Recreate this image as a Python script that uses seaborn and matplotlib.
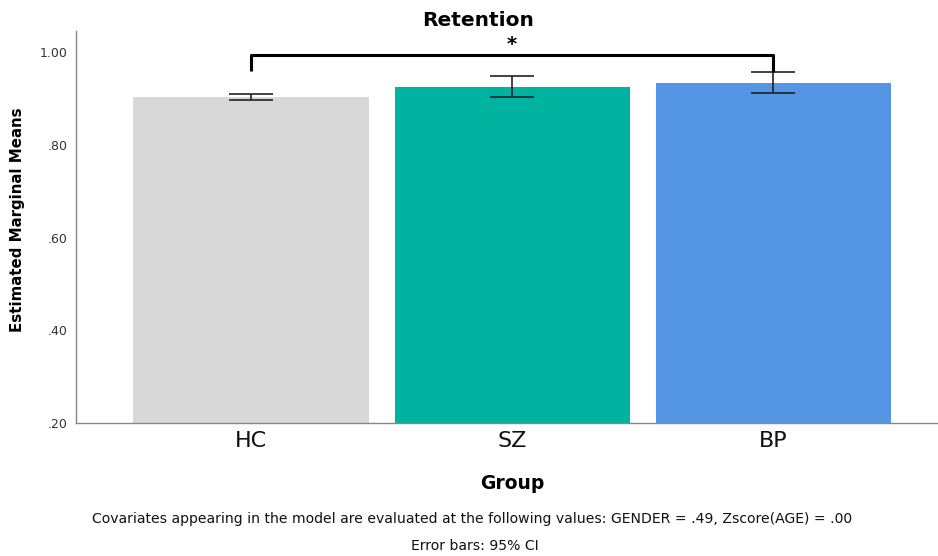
import matplotlib
matplotlib.use("Agg")
import matplotlib.pyplot as plt
import seaborn as sns
import pandas as pd
from matplotlib.path import Path
from matplotlib.patches import PathPatch

# Estimated marginal means with 95% CI
groups = ["HC", "SZ", "BP"]
means = [0.903, 0.926, 0.934]
ci_low = [0.897, 0.904, 0.912]
ci_high = [0.910, 0.949, 0.958]
colors = ["#d8d8d8", "#00b3a0", "#5596e4"]
yticks = [0.20, 0.40, 0.60, 0.80, 1.00]
ytick_labels = [".20", ".40", ".60", ".80", "1.00"]

sns.set_theme(style="white")
plt.rcParams["font.family"] = ["DejaVu Sans"]
plt.rcParams["text.color"] = "black"

df = pd.DataFrame({"Group": groups, "Mean": means})

fig = plt.figure(figsize=(9.38, 5.56), dpi=100)
ax = fig.add_axes([0.081, 0.2392, 0.919, 0.705])

sns.barplot(data=df, x="Group", y="Mean", hue="Group", palette=colors,
            order=groups, hue_order=groups, legend=False, width=0.9,
            errorbar=None, ax=ax, saturation=1, edgecolor="none")

xpos = list(range(len(groups)))
yerr = [[m - lo for m, lo in zip(means, ci_low)],
        [hi - m for m, hi in zip(means, ci_high)]]
ax.errorbar(xpos, means, yerr=yerr, fmt="none", ecolor="#222222",
            elinewidth=1.2, capsize=16, capthick=1.2, zorder=5)

ax.set_ylim(0.20, 1.046)
ax.set_xlim(-0.67, 2.63)
ax.set_yticks(yticks)
ax.set_yticklabels(ytick_labels, fontsize=9, color="#333333")
ax.tick_params(axis="x", labelsize=16, length=0, pad=6, labelcolor="#111111")
ax.tick_params(axis="y", length=0, pad=6)
ax.set_xlabel("")
ax.set_ylabel("")

for side in ["top", "right"]:
    ax.spines[side].set_visible(False)
for side in ["left", "bottom"]:
    ax.spines[side].set_color("#888888")
    ax.spines[side].set_linewidth(1.0)

# Significance bracket between HC and BP
bracket_y = 0.994
left_end = 0.960
right_end = 0.958
verts = [(0, left_end), (0, bracket_y), (2, bracket_y), (2, right_end)]
codes = [Path.MOVETO, Path.LINETO, Path.LINETO, Path.LINETO]
ax.add_patch(PathPatch(Path(verts, codes), fill=False, edgecolor="black",
                       linewidth=2.2, joinstyle="round", capstyle="butt",
                       zorder=6))
ax.text(1, 0.997, "*", ha="center", va="bottom", fontsize=14,
        fontweight="bold", color="black")

fig.text(0.510, 0.964, "Retention", ha="center", va="center",
         fontsize=14.5, fontweight="bold")
fig.text(0.546, 0.1295, "Group", ha="center", va="center",
         fontsize=13.5, fontweight="bold")
fig.text(0.019, 0.604, "Estimated Marginal Means", ha="center", va="center",
         rotation=90, fontsize=10.8, fontweight="bold")

foot_font = ["Liberation Sans Narrow", "DejaVu Sans"]
fig.text(0.503, 0.067,
         "Covariates appearing in the model are evaluated at the following values: "
         "GENDER = .49, Zscore(AGE) = .00",
         ha="center", va="center", fontsize=10.1, family=foot_font,
         color="#111111")
fig.text(0.506, 0.018, "Error bars: 95% CI", ha="center", va="center",
         fontsize=10.1, family=foot_font, color="#111111")

fig.savefig("out.png", dpi=100)
